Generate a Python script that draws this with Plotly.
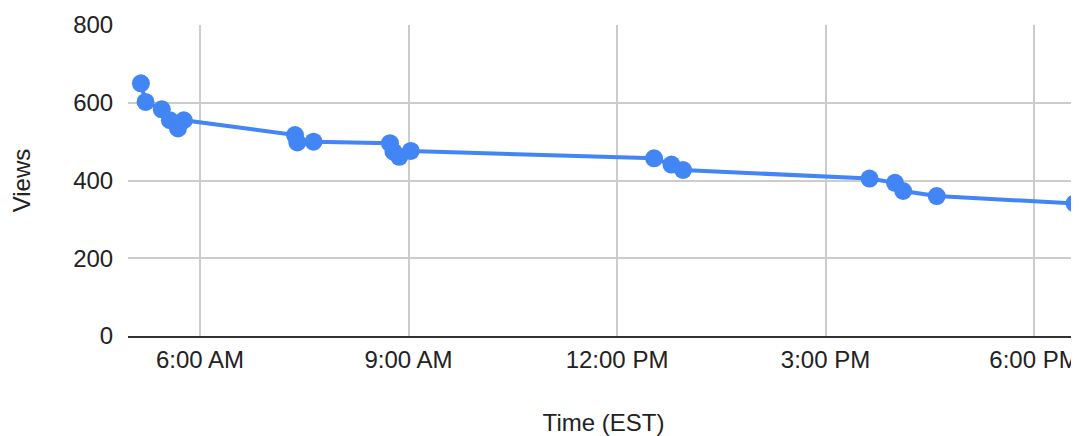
import plotly.graph_objects as go

times = ["05:09", "05:13", "05:27", "05:34", "05:41", "05:46",
         "07:22", "07:24", "07:38",
         "08:44", "08:47", "08:52", "09:02",
         "12:32", "12:47", "12:57",
         "15:38", "16:00", "16:07", "16:36", "18:35"]
views = [650, 602, 583, 555, 534, 555,
         517, 498, 500,
         496, 474, 461, 476,
         457, 441, 427,
         405, 394, 373, 360, 341]
tick_times = ["06:00", "09:00", "12:00", "15:00", "18:00"]
tick_labels = ["6:00 AM", "9:00 AM", "12:00 PM", "3:00 PM", "6:00 PM"]
y_ticks = [0, 200, 400, 600, 800]

day = "2024-01-01 "
x = [day + t for t in times]

fig = go.Figure()
fig.add_trace(go.Scatter(
    x=x, y=views, mode="lines+markers",
    line=dict(color="#4285F4", width=4),
    marker=dict(color="#4285F4", size=18),
    cliponaxis=False,
    showlegend=False,
))

font = dict(family="Liberation Sans, Arial, sans-serif", size=24, color="#222222")

fig.update_layout(
    width=1071, height=428,
    margin=dict(l=120, r=0, t=17, b=100),
    plot_bgcolor="white", paper_bgcolor="white",
    font=font,
    xaxis=dict(
        range=[day + "04:57:50", day + "18:38:50"],
        tickvals=[day + t for t in tick_times],
        ticktext=tick_labels,
        showgrid=True, gridcolor="#cccccc", gridwidth=1.5,
        showline=True, linecolor="#333333", linewidth=2,
        ticks="outside", ticklen=1, tickcolor="rgba(0,0,0,0)",
        zeroline=False,
        title=dict(text="Time (EST)", standoff=47, font=font),
        automargin=False,
    ),
    yaxis=dict(
        range=[0, 800],
        tickvals=y_ticks,
        showgrid=True, gridcolor="#cccccc", gridwidth=1.5,
        zeroline=False, showline=False,
        ticks="outside", ticklen=9, tickcolor="rgba(0,0,0,0)",
        title=dict(text="Views", standoff=37, font=font),
        automargin=False,
    ),
)

fig.write_html("out.html")
